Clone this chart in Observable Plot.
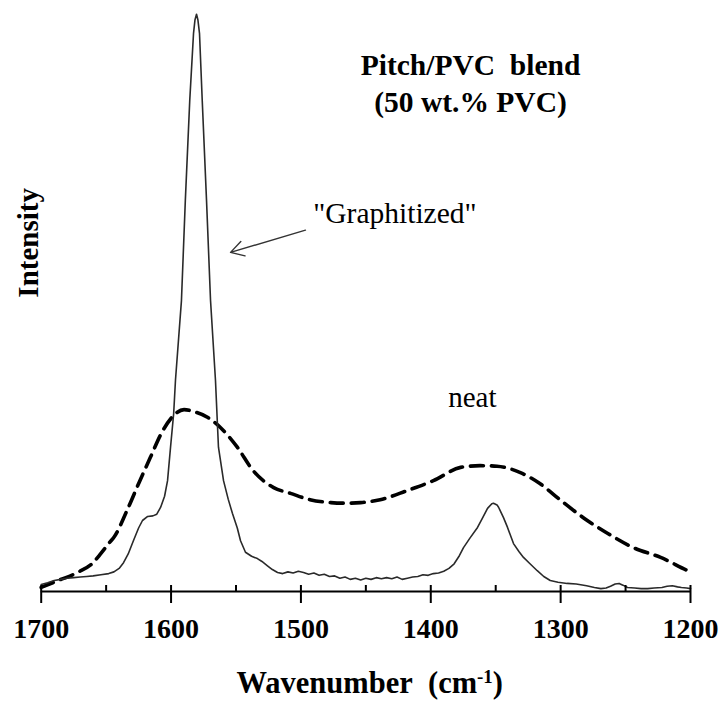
<!DOCTYPE html>
<html>
<head>
<meta charset="utf-8">
<script src="https://cdn.jsdelivr.net/npm/d3@7"></script>
<script src="https://cdn.jsdelivr.net/npm/@observablehq/plot@0.6"></script>
<style>
  html, body { margin: 0; padding: 0; background: #fff; }
  svg text { white-space: pre; }
</style>
</head>
<body>
<div id="chart"></div>
<script>
// Raman spectra, Pitch/PVC blend (50 wt.% PVC)
const graphitizedWavenumber = [1700,1695,1690,1685,1680,1675,1670,1665,1660,1654,1648,1644,1640,1636.6,1633,1629,1625,1622,1618,1614,1611,1608,1605,1602.7,1600.4,1598,1596.6,1592,1589,1585.6,1582.7,1581.6,1580.4,1579.3,1578.1,1576,1572.7,1569.6,1565.8,1563.5,1559.6,1556,1552.7,1549,1546.5,1542.7,1538,1533.5,1530,1526,1522,1518,1514,1510,1506,1502,1498,1494,1490,1486,1482,1478,1474,1470,1466,1462,1458,1454,1450,1446,1442,1438,1434,1430,1426,1422,1418,1414,1410,1406,1402,1398,1394,1390,1386,1382,1378,1374.8,1370,1364,1360,1356.3,1353,1351.7,1349,1347.8,1344,1340.9,1336.3,1332,1328.6,1324,1318,1313,1308,1302,1295,1288,1280,1274,1269,1265,1261.6,1258,1255,1252,1248.5,1243,1238,1233,1228,1222,1218,1214,1210,1207,1203,1200];
const graphitizedIntensity = [1.2,1.5,1.9,2.1,2.3,2.4,2.5,2.6,2.7,2.9,3.1,3.4,4.0,5.0,6.5,8.8,11.0,12.3,13.0,13.1,13.4,14.6,16.5,19.2,25.0,30.8,36.6,50.4,67.8,85.1,96.7,99,100,99,96.7,85.1,67.8,50.4,36.6,25.0,19.2,16,13.5,11,8.8,6.8,6.1,5.7,5.2,4.5,3.8,3.3,3.1,3.4,3.2,3.5,3.3,3.0,3.2,2.8,3.0,2.6,2.7,2.3,2.5,2.1,2.3,2.0,2.3,2.1,2.4,2.2,2.4,2.2,2.5,2.1,2.3,2.5,2.6,2.9,2.8,3.1,3.2,3.5,4.0,4.8,6.2,7.6,9.2,11.1,12.8,14.4,15.2,15.3,15.0,14.6,12.8,11.1,8.3,6.9,5.9,4.9,3.6,2.6,1.9,1.6,1.4,1.3,1.0,0.7,0.5,0.6,0.9,1.3,1.4,1.1,0.7,0.6,0.5,0.5,0.6,0.7,0.9,1.0,0.8,0.7,0.6,0.5];

const neatWavenumber = [1700,1687,1672,1660,1654,1647,1644,1634,1624,1616,1607,1598,1590,1583,1572,1562,1549,1537,1521,1508,1493,1477,1466,1454,1439,1418,1398,1377,1362,1349,1331,1316,1300,1282,1264,1244,1223,1202,1200];
const neatIntensity = [0.7,1.9,3.3,5.0,6.6,8.6,9.4,14.0,19.2,23.2,27.6,30.5,31.5,31.2,30.2,28.4,25.0,21.0,18.0,17.0,15.9,15.4,15.3,15.4,15.9,17.5,19.2,21.5,21.8,21.7,20.6,18.7,15.8,12.7,10.1,7.6,5.9,3.6,3.4];

const majorTicks = [1700,1600,1500,1400,1300,1200];
const allTicks = [1700,1650,1600,1550,1500,1450,1400,1350,1300,1250,1200];

const graphitized = graphitizedWavenumber.map((w,i) => ({w, v: graphitizedIntensity[i]}));
const neat = neatWavenumber.map((w,i) => ({w, v: neatIntensity[i]}));

const serif = "\"Liberation Serif\", \"Times New Roman\", Times, \"DejaVu Serif\", serif";

const chart = Plot.plot({
  width: 726,
  height: 703,
  marginLeft: 40.7,
  marginRight: 36,
  marginTop: 8,
  marginBottom: 112,
  style: {background: "#fff", color: "#000", overflow: "visible"},
  x: {domain: [1700, 1200]},
  y: {domain: [0, 101], axis: null},
  marks: [
    Plot.line(neat, {x: "w", y: "v", stroke: "#000", strokeWidth: 3.6, strokeDasharray: "13,8", curve: "monotone-x"}),
    Plot.line(graphitized, {x: "w", y: "v", stroke: "#2a2a2a", strokeWidth: 1.6}),
    Plot.ruleY([0], {stroke: "#000", strokeWidth: 2}),
    Plot.axisX({ticks: majorTicks, tickSize: 12, tickPadding: 15, fontSize: 28, fontWeight: "bold", tickFormat: d => String(d), strokeWidth: 2, label: null}),
    Plot.axisX({ticks: allTicks, tickSize: 6, dy: -6, text: null, strokeWidth: 2, label: null}),
    Plot.text(["Pitch/PVC\u00a0 blend"], {x: 1369.4, y: 89.4, textAnchor: "middle", lineAnchor: "bottom", fontSize: 29.5, fontWeight: "bold"}),
    Plot.text(["(50 wt.% PVC)"], {x: 1369.4, y: 83.0, textAnchor: "middle", lineAnchor: "bottom", fontSize: 29.5, fontWeight: "bold"}),
    Plot.text(["\"Graphitized\""], {x: 1427.6, y: 63.8, textAnchor: "middle", lineAnchor: "bottom", fontSize: 29.5}),
    Plot.arrow([0], {x1: 1496.5, y1: 62.6, x2: 1554.2, y2: 58.75, stroke: "#333", strokeWidth: 1.4, headLength: 16, headAngle: 60}),
    Plot.text(["neat"], {x: 1368, y: 31.9, textAnchor: "middle", lineAnchor: "bottom", fontSize: 29}),
    Plot.text(["Intensity"], {x: 1702.8, y: 60.4, rotate: -90, textAnchor: "middle", lineAnchor: "bottom", fontSize: 29, fontWeight: "bold"}),
    Plot.text(["Wavenumber\u00a0 (cm"], {x: 1447, y: -17.5, textAnchor: "middle", lineAnchor: "bottom", fontSize: 30.5, fontWeight: "bold"})
  ]
});

document.getElementById("chart").appendChild(chart);

// serif typeface on every text, and superscript on the x-axis label
d3.select(chart).attr("font-family", serif).style("font-family", serif);
d3.select(chart).selectAll("g, text").attr("font-family", serif).style("font-family", serif);
d3.select(chart).selectAll("text").each(function() {
  const t = d3.select(this);
  if (t.text() === "Wavenumber\u00a0 (cm") {
    t.append("tspan").attr("baseline-shift", "super").attr("font-size", "62%").text("-1");
    t.append("tspan").text(")");
  }
});
</script>
</body>
</html>
